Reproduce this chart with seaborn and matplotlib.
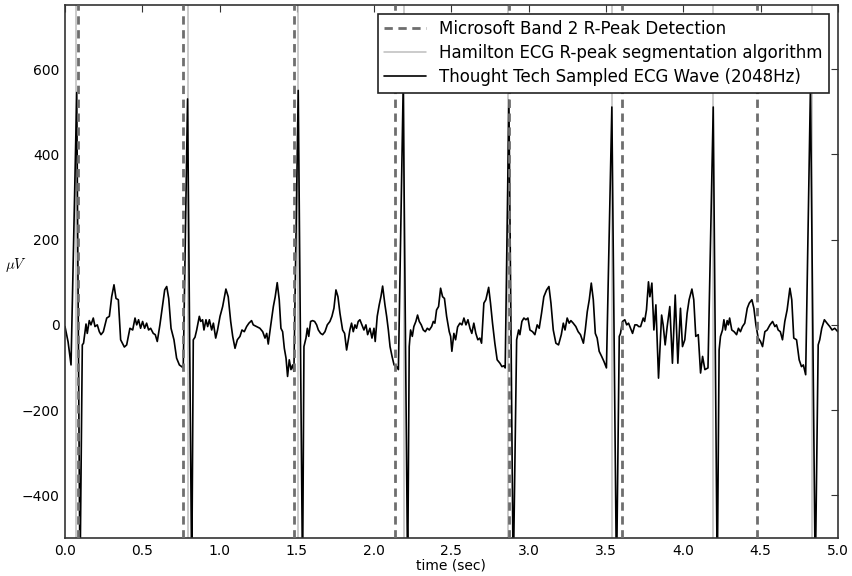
import seaborn as sns
import matplotlib
matplotlib.use("Agg")
import matplotlib.pyplot as plt

# ---------- DATA
ecg_t = [
    0.000, 0.020, 0.039, 0.076, 0.097, 0.112, 0.120, 0.136, 0.144, 0.157, 0.168, 0.183, 0.194, 0.209,
    0.222, 0.233, 0.248, 0.270, 0.287, 0.302, 0.317, 0.330, 0.345, 0.360, 0.384, 0.399, 0.420, 0.438,
    0.453, 0.464, 0.476, 0.489, 0.502, 0.515, 0.528, 0.541, 0.554, 0.571, 0.584, 0.597, 0.614, 0.632,
    0.645, 0.658, 0.671, 0.686, 0.705, 0.722, 0.740, 0.755, 0.765,
    0.793, 0.820, 0.830, 0.841, 0.852, 0.869, 0.878, 0.890, 0.899, 0.912, 0.923, 0.934, 0.949, 0.960,
    0.975, 0.987, 1.003, 1.020, 1.028, 1.041, 1.056, 1.072, 1.085, 1.100, 1.115, 1.132, 1.145, 1.160,
    1.175, 1.190, 1.207, 1.218, 1.240, 1.261, 1.279, 1.294, 1.305, 1.315, 1.330, 1.348, 1.360, 1.373,
    1.386, 1.397, 1.408, 1.419, 1.430, 1.440, 1.451, 1.462, 1.473, 1.481,
    1.509, 1.537, 1.546, 1.559, 1.568, 1.577, 1.589, 1.602, 1.615, 1.628, 1.639, 1.654, 1.667, 1.682,
    1.697, 1.714, 1.727, 1.740, 1.753, 1.766, 1.779, 1.796, 1.809, 1.822, 1.835, 1.843, 1.854, 1.865,
    1.876, 1.886, 1.897, 1.908, 1.921, 1.934, 1.947, 1.958, 1.973, 1.986, 1.999, 2.007, 2.020, 2.033,
    2.044, 2.055, 2.070, 2.081, 2.092, 2.103, 2.116, 2.129, 2.146, 2.157,
    2.188, 2.217, 2.227, 2.236, 2.247, 2.257, 2.270, 2.281, 2.292, 2.305, 2.318, 2.331, 2.344, 2.357,
    2.372, 2.383, 2.393, 2.404, 2.417, 2.430, 2.443, 2.455, 2.469, 2.486, 2.495, 2.503, 2.516, 2.527,
    2.540, 2.555, 2.568, 2.581, 2.594, 2.607, 2.620, 2.632, 2.645, 2.658, 2.671, 2.684, 2.695, 2.710,
    2.723, 2.741, 2.753, 2.766, 2.781, 2.796, 2.814, 2.827, 2.839, 2.848,
    2.872, 2.900, 2.922, 2.935, 2.943, 2.956, 2.969, 2.982, 2.995, 3.008, 3.025, 3.040, 3.055, 3.068,
    3.083, 3.098, 3.116, 3.131, 3.144, 3.159, 3.176, 3.193, 3.211, 3.224, 3.235, 3.249, 3.262, 3.273,
    3.288, 3.305, 3.320, 3.335, 3.354, 3.366, 3.379, 3.392, 3.405, 3.418, 3.431, 3.443, 3.456, 3.472,
    3.487, 3.503,
    3.538, 3.568, 3.586, 3.594, 3.607, 3.622, 3.634, 3.646, 3.659, 3.672, 3.687, 3.700, 3.712, 3.724,
    3.741, 3.750, 3.762, 3.775, 3.784, 3.797, 3.810, 3.823, 3.840, 3.860, 3.870, 3.883, 3.896, 3.913,
    3.930, 3.948, 3.965, 3.982, 3.995, 4.010, 4.025, 4.038, 4.056, 4.068, 4.081, 4.097, 4.112, 4.125,
    4.140, 4.160,
    4.194, 4.220, 4.232, 4.241, 4.254, 4.263, 4.273, 4.284, 4.292, 4.300, 4.314, 4.329, 4.345, 4.357,
    4.370, 4.383, 4.398, 4.414, 4.427, 4.444, 4.457, 4.470, 4.485, 4.500, 4.513, 4.528, 4.543, 4.561,
    4.578, 4.593, 4.603, 4.614, 4.628, 4.642, 4.657, 4.672, 4.690, 4.702, 4.715, 4.733, 4.750, 4.765,
    4.777, 4.792,
    4.823, 4.854, 4.873, 4.883, 4.896, 4.913, 4.930, 4.948, 4.963, 4.980, 5.000,
]
ecg_uv = [
    -4, -40, -94, 545, -600, -47, -43, 2, -20, 10, 0, 16, -4, 0,
    -16, -23, -16, 16, 20, 66, 94, 62, 59, -35, -52, -47, -8, -12,
    16, 0, 12, -8, 8, -8, 4, -12, -8, -20, -23, -39, 0, 47,
    82, 90, 62, -8, -35, -78, -94, -98, -101,
    530, -600, -35, -29, -12, 20, 8, 12, -12, 12, -4, 12, -12, 4,
    -31, -12, 20, 43, 59, 84, 66, 8, -27, -55, -35, -27, -12, -16,
    -4, 4, 10, 0, -4, -8, -16, -31, -20, -45, -4, 43, 66, 99,
    59, -8, -16, -55, -78, -121, -82, -105, -94, -109,
    550, -600, -51, -31, -8, -27, 8, 10, 8, 0, -12, -20, -23, -16,
    0, 8, 20, 39, 82, 66, 27, -12, -20, -59, -31, -12, 4, -16,
    0, -8, 8, 12, 0, -12, 0, -23, -8, -31, -8, -39, 20, 47,
    66, 91, 47, 20, -12, -51, -74, -94, -98, -105,
    560, -600, -51, -12, -27, -4, 8, 23, 8, 0, -12, -16, -8, -12,
    -4, 8, 4, 35, 43, 86, 66, 62, 20, -16, -27, -62, -20, -35,
    -5, 4, 0, 16, 0, 12, -8, -20, 4, -20, -35, -31, -43, 51,
    59, 88, 51, 4, -43, -82, -90, -98, -96, -101,
    527, -600, -35, -12, -23, 8, 16, 12, 16, -12, -16, -23, 0, -8,
    27, 66, 82, 90, 51, -12, -43, -47, -23, 4, -12, 16, 4, 10,
    4, -4, -16, -23, -43, -12, 31, 59, 98, 59, -20, -31, -62, -74,
    -86, -101,
    511, -600, -27, -20, 8, 12, 0, 4, -8, -20, 0, 0, -4, -4,
    16, 8, 35, 101, 66, 98, -12, 47, -125, 23, 0, -47, -4, 43,
    -90, 70, -90, 39, -51, -35, 27, 59, 84, 59, -27, -23, -113, -74,
    -105, -101,
    511, -600, -59, -27, -12, 12, -12, 10, 0, 16, -12, -16, -23, -8,
    -16, -4, 4, 39, 51, 59, 39, 0, -31, -39, -51, -16, -12, 0,
    8, -4, 0, -12, -16, -35, 8, 35, 86, 59, -31, -35, -82, -98,
    -94, -117,
    560, -600, -47, -35, -8, 12, 4, -4, -12, -8, -16,
]

band_peaks = [0.086, 0.761, 1.481, 2.135, 2.870, 3.601, 4.478]
hamilton_peaks = [0.071, 0.794, 1.507, 2.193, 2.863, 3.542, 4.190, 4.830]

x_ticks = [0.0, 0.5, 1.0, 1.5, 2.0, 2.5, 3.0, 3.5, 4.0, 4.5, 5.0]
y_ticks = [-400, -200, 0, 200, 400, 600]

band_label = "Microsoft Band 2 R-Peak Detection"
hamilton_label = "Hamilton ECG R-peak segmentation algorithm"
ecg_label = "Thought Tech Sampled ECG Wave (2048Hz)"

# ---------- STYLE
sns.set_theme(style="white")
plt.rcParams["font.family"] = ["DejaVu Sans"]
plt.rcParams["mathtext.fontset"] = "cm"
plt.rcParams["xtick.direction"] = "in"
plt.rcParams["ytick.direction"] = "in"
plt.rcParams["xtick.top"] = True
plt.rcParams["ytick.right"] = True

fig = plt.figure(figsize=(8.53, 5.76), dpi=100)
ax = fig.add_axes([0.0762, 0.066, 0.906, 0.925])

# ---------- DETECTIONS
for i, t in enumerate(band_peaks):
    ax.axvline(t, color="#6e6e6e", lw=2, ls=(0, (3, 2)),
               label=band_label if i == 0 else None, zorder=3)
for i, t in enumerate(hamilton_peaks):
    ax.axvline(t, color="#bdbdbd", lw=1.1,
               label=hamilton_label if i == 0 else None, zorder=1)

# ---------- ECG WAVE
sns.lineplot(x=ecg_t, y=ecg_uv, color="black", lw=1.2, sort=False,
             estimator=None, label=ecg_label, ax=ax, zorder=2)

ax.set_xlim(0, 5)
ax.set_ylim(-500, 750)
ax.set_xticks(x_ticks)
ax.set_yticks(y_ticks)
ax.tick_params(axis="both", labelsize=10, length=5, width=0.8, color="#333333",
               labelcolor="black", pad=4)
for s in ax.spines.values():
    s.set_color("#333333")
    s.set_linewidth(1.2)

ax.set_xlabel("time (sec)", fontsize=10, labelpad=1, color="black")
ax.set_ylabel(r"$\mu V$", fontsize=10.5, rotation=0, color="black")
ax.yaxis.set_label_coords(-0.064, 0.495)

handles, labels = ax.get_legend_handles_labels()
order = [labels.index(band_label), labels.index(hamilton_label), labels.index(ecg_label)]
leg = ax.legend([handles[i] for i in order], [labels[i] for i in order],
                loc="upper right", fontsize=12, fancybox=False, framealpha=1,
                borderaxespad=0.5, handlelength=2.5, borderpad=0.4, labelspacing=0.35)
leg.get_frame().set_edgecolor("#222222")
leg.get_frame().set_linewidth(1.2)
for txt in leg.get_texts():
    txt.set_color("black")

plt.savefig("out.png", dpi=100)
